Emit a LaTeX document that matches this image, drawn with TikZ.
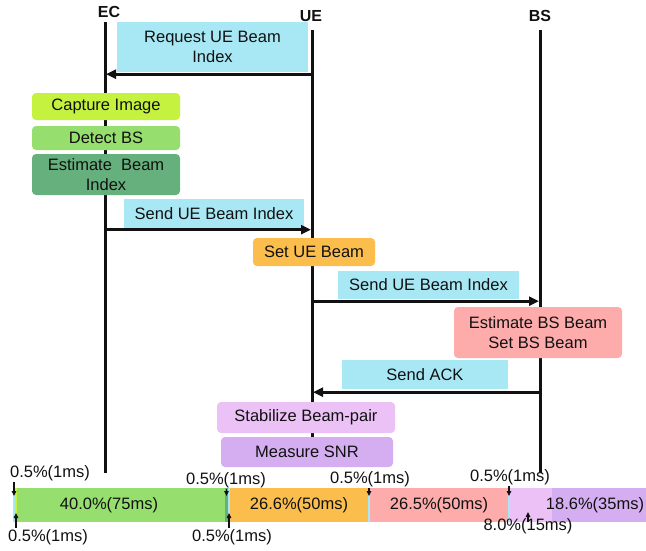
\documentclass[tikz,border=0pt]{standalone}
\usepackage{fontspec}
\setmainfont{Liberation Sans}
\usepackage{xcolor}
\usetikzlibrary{arrows.meta,positioning}
\definecolor{msgcyan}{HTML}{A8E8F4}
\definecolor{capture}{HTML}{C5F23F}
\definecolor{detect}{HTML}{96DE6E}
\definecolor{estbeam}{HTML}{66B07D}
\definecolor{setbeam}{HTML}{FBBE4C}
\definecolor{bsbeam}{HTML}{FDABAB}
\definecolor{stabilize}{HTML}{ECC1F6}
\definecolor{snr}{HTML}{D4AEF0}
\definecolor{ink}{HTML}{111111}
\newcommand{\diagfont}{\fontsize{16.5}{20}\selectfont}
\tikzset{
  lifeline/.style={draw=ink,line width=3pt},
  actorlabel/.style={font=\fontsize{16}{18}\selectfont\bfseries,text=ink,inner sep=0pt},
  msgbox/.style={fill=msgcyan,align=center,font=\diagfont,text=ink,inner sep=0pt},
  procbox/.style={rounded corners=4pt,align=center,font=\diagfont,text=ink,inner sep=0pt},
  msgarrow/.style={-{Triangle[length=10pt,width=9pt]},draw=ink,line width=3pt,shorten >=1pt},
  seg/.style={anchor=west,minimum height=34pt,inner sep=0pt,outer sep=0pt,font=\diagfont,text=ink},
  pctlabel/.style={font=\diagfont,text=ink,inner sep=1pt},
  pctarrow/.style={-{Triangle[length=5pt,width=4.5pt]},draw=ink,line width=1.2pt}
}
\begin{document}
\begin{tikzpicture}[x=1pt,y=-1pt]
  \useasboundingbox (0,0) rectangle (646,550);
  % lifelines
  \node[actorlabel] (ec) at (109,12) {EC};
  \node[actorlabel] (ue) at (311,16) {UE};
  \node[actorlabel] (bs) at (540,16) {BS};
  \coordinate (ectop) at (105,22);
  \coordinate (ecbot) at (105,473);
  \coordinate (uetop) at (312,30);
  \coordinate (uebot) at (312,450);
  \coordinate (bstop) at (540,30);
  \coordinate (bsbot) at (540,473);
  \draw[lifeline] (ectop)--(ecbot);
  \draw[lifeline] (uetop)--(uebot);
  \draw[lifeline] (bstop)--(bsbot);
  % messages and steps
  \node[msgbox,minimum width=191pt,minimum height=50pt] (req) at (212.5,47) {Request UE Beam\\Index};
  \draw[msgarrow] ([yshift=-2pt]req.south -| uetop) -- ([yshift=-2pt]req.south -| ectop);
  \node[procbox,fill=capture,minimum width=148pt,minimum height=27pt] (cap) at (106,106.5) {Capture Image};
  \node[procbox,fill=detect,minimum width=148pt,minimum height=24pt] (det) at (106,138) {Detect BS};
  \node[procbox,fill=estbeam,minimum width=148pt,minimum height=41pt] (est) at (106,174.5) {Estimate\ \ Beam\\Index};
  \node[msgbox,minimum width=180pt,minimum height=29pt] (send1) at (214,213.5) {Send UE Beam Index};
  \draw[msgarrow] ([yshift=-1.5pt]send1.south -| ectop) -- ([yshift=-1.5pt]send1.south -| uetop);
  \node[procbox,fill=setbeam,minimum width=122pt,minimum height=28pt] (setue) at (314,252) {Set UE Beam};
  \node[msgbox,minimum width=181pt,minimum height=28pt] (send2) at (428.5,285) {Send UE Beam Index};
  \draw[msgarrow] ([yshift=-2pt]send2.south -| uetop) -- ([yshift=-2pt]send2.south -| bstop);
  \node[procbox,fill=bsbeam,minimum width=168pt,minimum height=51pt] (setbs) at (538,332.5) {Estimate BS Beam\\Set BS Beam};
  \node[msgbox,minimum width=166pt,minimum height=29pt] (ack) at (425,374.5) {Send ACK};
  \draw[msgarrow] ([yshift=-3pt]ack.south -| bstop) -- ([yshift=-3pt]ack.south -| uetop);
  \node[procbox,fill=stabilize,minimum width=178pt,minimum height=31pt] (stab) at (306,417.5) {Stabilize Beam-pair};
  \node[procbox,fill=snr,minimum width=172pt,minimum height=30pt] (meas) at (307,452) {Measure SNR};
  % time bar
  \node[seg,fill=msgcyan,minimum width=2pt] (s1) at (13,505) {};
  \node[seg,fill=capture,minimum width=2pt,right=0pt of s1] (s2) {};
  \node[seg,fill=detect,minimum width=208pt,right=0pt of s2] (s3) {};
  \node[seg,fill=estbeam,minimum width=3pt,right=0pt of s3] (s4) {};
  \node[seg,fill=msgcyan,minimum width=2pt,right=0pt of s4] (s5) {};
  \node[seg,fill=setbeam,minimum width=138pt,right=0pt of s5] (s6) {26.6\%(50ms)};
  \node[seg,fill=msgcyan,minimum width=2pt,right=0pt of s6] (s7) {};
  \node[seg,fill=bsbeam,minimum width=138pt,right=0pt of s7] (s8) {26.5\%(50ms)};
  \node[seg,fill=msgcyan,minimum width=2pt,right=0pt of s8] (s9) {};
  \node[seg,fill=stabilize,minimum width=42pt,right=0pt of s9] (s10) {};
  \node[seg,fill=snr,minimum width=94pt,right=0pt of s10] (s11) {};
  \node[pctlabel] (p40) at (109,505) {40.0\%(75ms)};
  \node[pctlabel] (p18) at (595,505) {18.6\%(35ms)};
  % percentage callouts
  \node[pctlabel] (t1) at (50,473) {0.5\%(1ms)};
  \node[pctlabel] (b1) at (48,537) {0.5\%(1ms)};
  \node[pctlabel] (t2) at (226,480) {0.5\%(1ms)};
  \node[pctlabel] (b2) at (232,537) {0.5\%(1ms)};
  \node[pctlabel] (t3) at (370,479) {0.5\%(1ms)};
  \node[pctlabel] (t4) at (510,477) {0.5\%(1ms)};
  \node[pctlabel] (b3) at (528,526) {8.0\%(15ms)};
  \draw[pctarrow] (t1.south -| s1) -- ([yshift=-8pt]s1.north);
  \draw[pctarrow] (b1.north -| s2) -- ([yshift=9pt]s2.south);
  \draw[pctarrow] (t2.south -| s4) -- ([yshift=-8pt]s4.north);
  \draw[pctarrow] (b2.north -| s5) -- ([yshift=9pt]s5.south);
  \draw[pctarrow] (t3.south -| s7) -- ([yshift=-8pt]s7.north);
  \draw[pctarrow] (t4.south -| s9) -- ([yshift=-8pt]s9.north);
  \draw[pctarrow] ([yshift=-5pt]b3.north) -- ([yshift=10pt]s10.south -| b3.north);
\end{tikzpicture}
\end{document}
